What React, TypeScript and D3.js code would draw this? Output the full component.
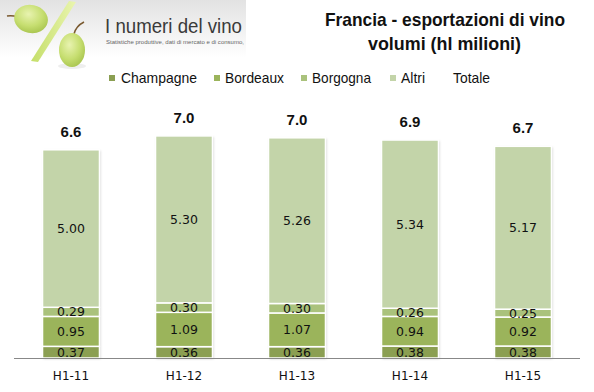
import React from "react";
import * as d3 from "d3";

const categories = ["H1-11", "H1-12", "H1-13", "H1-14", "H1-15"];
const seriesNames = ["Champagne", "Bordeaux", "Borgogna", "Altri"];
const champagne = [0.37, 0.36, 0.36, 0.38, 0.38];
const bordeaux = [0.95, 1.09, 1.07, 0.94, 0.92];
const borgogna = [0.29, 0.3, 0.3, 0.26, 0.25];
const altri = [5.0, 5.3, 5.26, 5.34, 5.17];
const totale = [6.6, 7.0, 7.0, 6.9, 6.7];
const colors = ["#8b9f52", "#9bb45b", "#aac27c", "#c3d4a9"];

const W = 594;
const H = 392;

export default function App() {
  const values = [champagne, bordeaux, borgogna, altri];
  const rows = categories.map((c, i) => {
    const r: any = { cat: c };
    seriesNames.forEach((s, k) => (r[s] = values[k][i]));
    return r;
  });
  const stack = d3.stack<any>().keys(seriesNames)(rows);
  const x = d3
    .scaleBand<string>()
    .domain(categories)
    .range([14.5, 579.5])
    .paddingInner(0.496)
    .paddingOuter(0.248);
  const y = d3.scaleLinear().domain([0, 7.6]).range([358, 358 - 7.6 * 31.5]);
  const bw = x.bandwidth();
  const valueFont = "'DejaVu Sans', Verdana, sans-serif";
  const sans = "'Liberation Sans', Arial, sans-serif";

  const legendItems = [
    { name: "Champagne", sx: 109, tx: 121, len: 76, color: colors[0] },
    { name: "Bordeaux", sx: 214, tx: 225, len: 59, color: colors[1] },
    { name: "Borgogna", sx: 301, tx: 312, len: 59, color: colors[2] },
    { name: "Altri", sx: 390, tx: 401, len: 24, color: colors[3] },
    { name: "Totale", sx: null, tx: 453, len: 37, color: null },
  ];

  return (
    <svg width={W} height={H} style={{ position: "absolute", left: 0, top: 0, background: "#fff" }}>
      <defs>
        <linearGradient id="banner" x1="0" y1="0" x2="0" y2="1">
          <stop offset="0" stopColor="#e2e2e2" />
          <stop offset="1" stopColor="#ffffff" />
        </linearGradient>
        <radialGradient id="grape" cx="0.4" cy="0.35" r="0.7">
          <stop offset="0" stopColor="#e8f3b0" />
          <stop offset="0.6" stopColor="#c6de70" />
          <stop offset="1" stopColor="#a8c44e" />
        </radialGradient>
        <linearGradient id="slash" x1="0" y1="0" x2="1" y2="0">
          <stop offset="0" stopColor="#c4de68" />
          <stop offset="1" stopColor="#eaf5b0" />
        </linearGradient>
        <filter id="sh" x="-10%" y="-10%" width="130%" height="130%">
          <feDropShadow dx="1" dy="1" stdDeviation="1" floodColor="#000" floodOpacity="0.18" />
        </filter>
      </defs>

      {/* logo */}
      <rect x={0} y={0} width={246} height={58} fill="url(#banner)" />
      <ellipse cx={72} cy={66} rx={14} ry={3} fill="#eeeeee" />
      <path d="M 18 17 Q 12 15 7 16" stroke="#7a5a30" strokeWidth={1.5} fill="none" />
      <ellipse cx={31} cy={19} rx={17} ry={14} fill="url(#grape)" transform="rotate(12 31 19)" />
      <polygon points="69,1 76,2 38,62 31,61" fill="url(#slash)" />
      <path d="M 74 34 Q 76 26 84 22" stroke="#7a5a30" strokeWidth={1.6} fill="none" />
      <ellipse cx={72} cy={50} rx={13} ry={17} fill="url(#grape)" />
      <text x={105} y={33} fontFamily={sans} fontSize={21} fill="#3a3a3a" textLength={137} lengthAdjust="spacingAndGlyphs">
        I numeri del vino
      </text>
      <text x={106} y={44} fontFamily={sans} fontSize={5.6} fill="#666" textLength={138} lengthAdjust="spacingAndGlyphs">
        Statistiche produttive, dati di mercato e di consumo,
      </text>

      {/* title */}
      <text x={325} y={26} fontFamily={sans} fontWeight="bold" fontSize={19} fill="#111" textLength={240} lengthAdjust="spacingAndGlyphs">
        Francia - esportazioni di vino
      </text>
      <text x={368} y={50} fontFamily={sans} fontWeight="bold" fontSize={19} fill="#111" textLength={153} lengthAdjust="spacingAndGlyphs">
        volumi (hl milioni)
      </text>

      {/* legend */}
      {legendItems.map((l) => (
        <g key={l.name}>
          {l.sx !== null && <rect x={l.sx} y={75} width={6} height={6} fill={l.color as string} />}
          <text x={l.tx} y={82.5} fontFamily={sans} fontSize={15} fill="#111" textLength={l.len} lengthAdjust="spacingAndGlyphs">
            {l.name}
          </text>
        </g>
      ))}

      {/* bars */}
      {categories.map((c, i) => (
        <rect
          key={"sh" + c}
          x={x(c)!}
          y={y(stack[3][i][1])}
          width={bw}
          height={y(0) - y(stack[3][i][1])}
          fill="#fff"
          filter="url(#sh)"
        />
      ))}
      {stack.map((s, k) =>
        s.map((d, i) => (
          <rect
            key={k + "-" + i}
            x={x(categories[i])!}
            y={y(d[1])}
            width={bw}
            height={y(d[0]) - y(d[1])}
            fill={colors[k]}
            stroke="#ffffff"
            strokeWidth={1.5}
          />
        ))
      )}
      {stack.map((s, k) =>
        s.map((d, i) => (
          <text
            key={"t" + k + "-" + i}
            x={x(categories[i])! + bw / 2}
            y={(y(d[0]) + y(d[1])) / 2 + 4.5}
            textAnchor="middle"
            fontFamily={valueFont}
            fontSize={12.5}
            fill="#111"
          >
            {values[k][i].toFixed(2)}
          </text>
        ))
      )}
      {categories.map((c, i) => (
        <text
          key={"tot" + c}
          x={x(c)! + bw / 2}
          y={y(stack[3][i][1]) - 13}
          textAnchor="middle"
          fontFamily={sans}
          fontWeight="bold"
          fontSize={15}
          fill="#111"
        >
          {totale[i].toFixed(1)}
        </text>
      ))}

      {/* axis */}
      <line x1={14} x2={580} y1={358.5} y2={358.5} stroke="#888" strokeWidth={1.2} />
      {categories.map((c) => (
        <text
          key={"ax" + c}
          x={x(c)! + bw / 2}
          y={380}
          textAnchor="middle"
          fontFamily={valueFont}
          fontSize={12}
          fill="#111"
        >
          {c}
        </text>
      ))}
    </svg>
  );
}
